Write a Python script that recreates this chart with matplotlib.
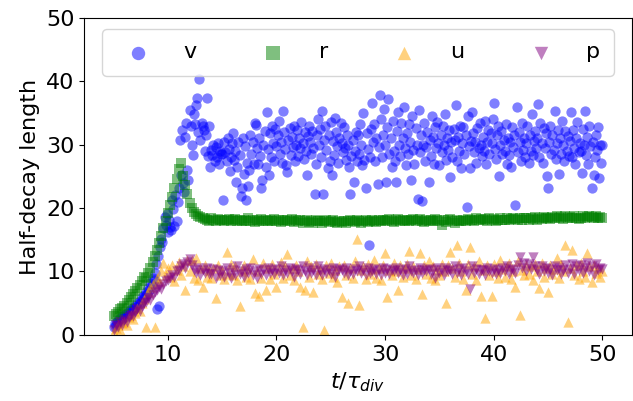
import matplotlib
matplotlib.use("Agg")
import matplotlib.pyplot as plt
import numpy as np

FONT_SIZE = 16

# time axis: v sampled every 0.1, the other fields every 0.2 (t / tau_div from 5 to 50)
t_fine = np.round(np.arange(5.0, 50.05, 0.1), 1)
t_coarse = np.round(np.arange(5.0, 50.05, 0.2), 1)

v_len = [
    1.2, 1.8, 1.5, 2.0, 2.4, 2.1, 2.6, 2.3, 2.9, 2.7,
    3.1, 2.8, 3.4, 3.2, 3.7, 3.5, 4.0, 3.8, 4.3, 4.1,
    4.6, 4.4, 5.0, 4.8, 5.4, 5.2, 5.9, 5.6, 6.3, 6.1,
    6.8, 6.5, 7.4, 7.0, 8.2, 7.8, 9.0, 8.6, 9.8, 11.2,
    4.0, 12.5, 4.6, 13.8, 15.2, 14.6, 16.8, 18.6, 17.4, 19.0,
    16.2, 18.2, 17.0, 16.5, 21.3, 19.8, 17.2, 22.0, 18.0, 21.0,
    23.2, 30.8, 25.2, 32.3, 24.0, 22.5, 31.3, 33.4, 26.0, 24.5,
    35.5, 33.0, 30.0, 28.4, 34.8, 33.2, 36.3, 37.4, 32.0, 40.4,
    30.8, 33.4, 33.0, 32.3, 29.0, 31.5, 37.4, 28.2, 33.0, 26.5,
    29.2, 28.4, 30.0, 27.5, 29.6, 28.0, 30.2, 27.0, 29.0, 28.6,
    28.5, 21.3, 30.5, 28.8, 27.5, 31.0, 29.4, 25.8, 28.0, 30.2,
    31.9, 27.6, 29.0, 24.2, 26.5, 30.5, 28.4, 21.9, 23.2, 31.1,
    25.4, 29.8, 21.3, 27.2, 23.5, 26.0, 31.5, 28.6, 30.4, 27.0,
    33.4, 33.1, 29.5, 27.0, 31.0, 28.2, 23.2, 24.4, 30.0, 32.2,
    26.5, 35.2, 29.4, 25.2, 31.8, 28.0, 33.0, 30.2, 27.4, 32.5,
    29.8, 31.5, 33.8, 28.6, 30.5, 27.2, 35.3, 32.0, 29.4, 26.8,
    25.7, 30.8, 32.6, 28.4, 31.2, 29.6, 33.0, 27.5, 30.0, 32.4,
    28.2, 31.0, 29.5, 33.6, 30.2, 27.8, 32.0, 29.0, 25.2, 31.4,
    33.0, 30.5, 28.6, 32.2, 29.5, 22.2, 27.0, 31.6, 34.0, 30.0,
    32.5, 28.0, 35.3, 22.2, 30.8, 33.0, 29.2, 26.3, 31.5, 27.5,
    33.6, 25.2, 30.6, 28.4, 34.2, 32.0, 29.8, 27.2, 31.0, 33.5,
    30.2, 28.8, 32.8, 29.5, 27.6, 31.5, 30.0, 26.5, 22.2, 28.2,
    30.8, 24.1, 29.0, 32.0, 27.4, 31.5, 28.5, 33.2, 30.0, 26.8,
    35.0, 27.6, 23.2, 31.8, 29.4, 14.2, 28.0, 32.5, 36.6, 30.4,
    33.2, 27.5, 31.0, 23.8, 29.6, 37.8, 34.0, 28.0, 31.5, 35.6,
    30.0, 24.1, 32.8, 37.2, 28.6, 31.0, 26.5, 33.8, 29.0, 27.4,
    24.1, 32.2, 35.2, 30.0, 28.2, 33.5, 31.0, 36.0, 29.5, 26.8,
    31.8, 28.5, 33.2, 30.4, 24.5, 34.5, 29.2, 27.0, 32.6, 30.0,
    21.4, 35.5, 28.8, 31.5, 21.1, 30.0, 33.4, 27.5, 29.6, 32.0,
    24.1, 30.8, 28.2, 34.5, 31.2, 27.0, 32.8, 29.5, 33.6, 30.2,
    26.8, 31.5, 28.8, 33.0, 30.0, 34.8, 27.6, 31.0, 29.2, 32.4,
    24.9, 30.5, 28.0, 32.5, 30.8, 36.3, 27.5, 31.2, 29.0, 33.0,
    26.3, 30.2, 32.8, 28.5, 31.5, 20.2, 34.6, 29.8, 26.3, 30.6,
    35.2, 31.8, 28.8, 30.5, 27.2, 32.6, 29.5, 33.5, 30.0, 28.2,
    31.2, 29.0, 33.8, 27.0, 30.5, 32.4, 28.6, 31.8, 30.2, 34.0,
    36.6, 29.4, 27.8, 31.5, 33.0, 25.0, 30.0, 32.2, 28.6, 30.8,
    29.0, 33.2, 27.0, 31.0, 28.4, 30.5, 26.5, 32.8, 29.6, 31.5,
    20.5, 36.0, 28.8, 32.0, 30.4, 27.5, 33.5, 29.2, 31.0, 28.0,
    30.2, 33.0, 27.2, 31.5, 29.0, 34.8, 28.4, 30.6, 32.2, 29.5,
    31.0, 36.4, 28.0, 33.5, 30.2, 27.2, 32.6, 29.5, 31.8, 25.0,
    23.2, 30.5, 33.0, 28.6, 31.6, 29.2, 35.4, 27.8, 30.2, 32.4,
    25.4, 31.0, 28.5, 33.8, 30.0, 27.4, 32.2, 29.0, 31.4, 28.2,
    30.6, 35.2, 28.0, 32.4, 29.5, 27.0, 31.0, 33.6, 28.8, 30.2,
    29.0, 25.6, 32.5, 30.0, 35.3, 28.4, 31.2, 27.0, 33.0, 29.8,
    23.2, 30.5, 25.2, 28.0, 31.5, 29.2, 32.8, 24.8, 30.0, 27.2,
    30.0,
]

r_len = [
    3.0, 3.3, 3.6, 4.0, 4.3,
    4.6, 5.0, 5.5, 6.0, 6.4,
    6.9, 7.4, 7.9, 8.5, 9.2,
    9.0, 9.8, 10.6, 11.5, 12.4,
    13.4, 14.5, 15.6, 16.8, 18.0,
    19.2, 20.5, 21.8, 23.2, 24.6,
    26.2, 27.2, 25.0, 23.6, 22.2,
    20.8, 20.0, 19.4, 19.0, 18.8,
    18.6, 18.4, 18.3, 18.2, 18.0,
    18.4, 18.2, 18.0, 18.3, 18.1,
    18.2, 17.9, 18.1, 18.3, 18.0,
    18.1, 18.3, 17.9, 18.2, 18.0,
    18.2, 18.0, 18.4, 17.9, 18.1,
    17.8, 18.2, 18.0, 18.3, 17.9,
    18.1, 17.9, 18.2, 18.0, 18.3,
    18.0, 18.2, 17.8, 18.1, 17.9,
    18.2, 18.0, 18.3, 17.8, 18.1,
    17.9, 18.1, 17.7, 18.0, 18.2,
    17.8, 18.0, 17.7, 18.1, 17.9,
    18.0, 17.7, 17.9, 18.1, 17.8,
    17.9, 18.1, 17.8, 17.6, 18.0,
    17.8, 18.0, 17.7, 17.9, 18.1,
    18.0, 17.8, 18.1, 17.9, 17.7,
    17.9, 18.1, 17.8, 18.0, 18.2,
    18.0, 17.8, 18.2, 17.9, 18.1,
    17.9, 18.1, 18.3, 18.0, 17.8,
    18.1, 18.3, 17.9, 18.2, 18.0,
    18.2, 17.9, 18.1, 18.3, 18.0,
    18.1, 18.3, 18.0, 17.8, 18.2,
    17.9, 18.2, 18.0, 18.3, 18.1,
    18.0, 17.4, 18.1, 17.8, 18.2,
    18.3, 18.0, 17.7, 18.1, 17.9,
    18.0, 18.2, 17.9, 18.3, 18.1,
    18.2, 18.0, 18.4, 18.1, 18.3,
    18.1, 18.3, 18.0, 18.4, 18.2,
    18.3, 18.0, 18.2, 18.4, 18.1,
    18.2, 18.4, 18.1, 18.3, 18.5,
    18.3, 18.1, 18.4, 18.2, 18.5,
    18.4, 18.2, 18.5, 18.3, 18.6,
    18.2, 18.5, 18.3, 18.6, 18.4,
    18.5, 18.3, 18.6, 18.4, 18.7,
    18.4, 18.6, 18.3, 18.7, 18.5,
    18.6, 18.4, 18.7, 18.5, 18.3,
    18.5, 18.7, 18.4, 18.6, 18.8,
    18.6, 18.4, 18.7, 18.5, 18.6,
    18.4,
]

u_len = [
    0.5, 1.0, 1.5, 0.8, 1.8,
    2.0, 1.5, 2.8, 3.2, 2.5,
    3.5, 4.2, 3.8, 5.0, 5.6,
    1.3, 6.8, 7.5, 8.0, 1.3,
    9.0, 8.5, 10.0, 11.4, 9.5,
    10.5, 9.2, 11.0, 8.5, 10.2,
    11.5, 9.5, 10.8, 7.1, 11.8,
    10.0, 11.8, 9.0, 12.2, 8.6,
    10.5, 7.6, 11.0, 9.2, 10.2,
    9.0, 10.5, 5.8, 11.0, 9.5,
    10.2, 8.8, 13.1, 9.6, 11.2,
    9.4, 10.8, 8.6, 4.6, 10.0,
    11.0, 9.2, 10.4, 8.8, 12.0,
    6.6, 10.0, 6.2, 9.0, 11.4,
    7.1, 10.6, 8.8, 11.2, 9.6,
    7.6, 10.2, 11.5, 9.0, 10.8,
    12.8, 9.4, 10.6, 8.6, 11.0,
    10.0, 7.6, 1.3, 7.1, 11.6,
    9.2, 10.8, 6.8, 11.2, 9.6,
    10.4, 8.8, 0.8, 11.0, 9.8,
    11.4, 9.2, 10.2, 8.4, 10.8,
    6.0, 11.0, 9.4, 5.0, 10.6,
    9.0, 11.6, 15.1, 4.7, 10.2,
    10.8, 8.8, 11.2, 9.6, 10.4,
    11.8, 9.0, 10.6, 8.6, 11.0,
    12.9, 6.0, 10.2, 9.4, 11.4,
    10.0, 7.1, 11.0, 9.2, 10.6,
    11.2, 13.2, 9.4, 10.8, 8.8,
    10.4, 12.9, 6.5, 11.0, 9.6,
    11.6, 9.0, 10.8, 8.6, 10.2,
    9.4, 11.2, 10.0, 5.0, 11.0,
    13.1, 10.6, 9.2, 14.2, 11.4,
    10.0, 8.8, 7.1, 11.2, 13.9,
    9.6, 10.8, 8.6, 11.6, 6.1,
    10.2, 2.7, 11.0, 9.4, 6.1,
    11.2, 10.0, 9.0, 11.8, 10.4,
    9.2, 10.8, 11.4, 8.8, 10.0,
    7.6, 11.6, 3.2, 10.2, 9.4,
    11.0, 9.6, 10.8, 8.6, 11.2,
    10.0, 7.4, 11.4, 9.2, 10.6,
    6.8, 11.0, 9.6, 10.4, 12.2,
    9.0, 11.2, 10.0, 14.2, 2.1,
    10.6, 13.4, 9.4, 11.0, 8.8,
    11.4, 10.0, 9.2, 12.9, 10.8,
    8.4, 11.0, 9.8, 10.6, 9.2,
    10.0,
]

p_len = [
    0.8, 1.5, 1.2, 2.0, 1.6,
    2.4, 2.0, 2.8, 3.2, 3.0,
    3.6, 4.0, 3.8, 4.5, 5.0,
    5.2, 5.8, 5.5, 6.3, 6.8,
    7.0, 7.5, 7.2, 8.0, 8.5,
    8.6, 9.0, 9.5, 9.2, 10.0,
    10.2, 10.8, 11.2, 10.5, 11.5,
    12.0, 11.0, 10.2, 9.8, 10.5,
    9.5, 10.2, 9.8, 10.5, 9.6,
    9.6, 10.4, 9.0, 10.2, 9.4,
    10.0, 9.2, 10.6, 9.8, 9.0,
    10.2, 9.4, 10.8, 9.6, 10.0,
    9.2, 10.4, 9.8, 10.6, 9.4,
    10.0, 9.0, 10.4, 9.6, 10.2,
    9.4, 10.6, 9.8, 10.2, 9.6,
    10.4, 9.8, 10.8, 9.4, 10.2,
    9.8, 10.6, 10.0, 9.2, 10.4,
    10.2, 9.6, 10.8, 10.0, 9.4,
    10.6, 9.8, 10.2, 9.4, 10.8,
    10.0, 9.4, 10.4, 9.8, 10.2,
    9.6, 10.6, 9.2, 10.0, 10.4,
    10.2, 9.8, 10.6, 9.4, 10.0,
    9.6, 10.4, 10.0, 10.8, 9.8,
    10.2, 9.4, 10.6, 9.8, 10.0,
    10.4, 9.6, 10.2, 9.4, 10.6,
    9.8, 10.4, 9.6, 10.2, 10.0,
    10.6, 9.8, 10.2, 9.4, 10.4,
    9.6, 10.8, 10.0, 9.8, 10.2,
    9.4, 10.6, 9.8, 10.2, 10.0,
    10.4, 9.6, 10.2, 9.0, 10.6,
    9.8, 10.2, 9.4, 10.6, 10.0,
    10.2, 9.6, 10.8, 9.8, 10.4,
    9.4, 10.6, 10.0, 9.6, 7.2,
    10.8, 9.8, 10.4, 9.6, 10.2,
    10.2, 9.4, 10.6, 10.0, 9.8,
    10.4, 9.6, 10.2, 9.8, 10.6,
    10.0, 10.8, 9.6, 10.4, 10.2,
    9.8, 11.0, 12.3, 10.6, 11.4,
    10.0, 11.2, 10.4, 12.3, 10.8,
    10.2, 9.6, 10.8, 10.0, 10.6,
    9.8, 10.4, 9.4, 10.8, 10.2,
    10.6, 9.6, 10.2, 11.0, 9.8,
    10.4, 11.2, 9.6, 10.8, 10.2,
    11.0, 9.8, 10.6, 11.4, 10.0,
    10.8, 9.4, 11.2, 10.2, 10.6,
    10.4,
]

fig, ax = plt.subplots(figsize=(6.33, 4.01), dpi=100)
fig.subplots_adjust(left=0.133, right=0.998, top=0.955, bottom=0.165)

ax.scatter(t_fine, v_len, marker='o', s=55, color='blue', alpha=0.5, linewidths=0, label='v')
ax.scatter(t_coarse, r_len, marker='s', s=55, color='green', alpha=0.5, linewidths=0, label='r')
ax.scatter(t_coarse, u_len, marker='^', s=55, color='orange', alpha=0.5, linewidths=0, label='u')
ax.scatter(t_coarse, p_len, marker='v', s=55, color='purple', alpha=0.5, linewidths=0, label='p')

ax.set_xlim(2.3, 52.7)
ax.set_ylim(0, 50)
ax.set_xticks([10, 20, 30, 40, 50])
ax.set_yticks([0, 10, 20, 30, 40, 50])
ax.tick_params(labelsize=FONT_SIZE)
ax.set_xlabel(r'$t/\tau_{div}$', fontsize=FONT_SIZE)
ax.set_ylabel('Half-decay length', fontsize=FONT_SIZE)
ax.legend(loc='upper center', ncol=4, fontsize=FONT_SIZE, markerscale=1.3,
          handletextpad=1.05, columnspacing=2.45, borderpad=0.6)

plt.savefig("out.png")
